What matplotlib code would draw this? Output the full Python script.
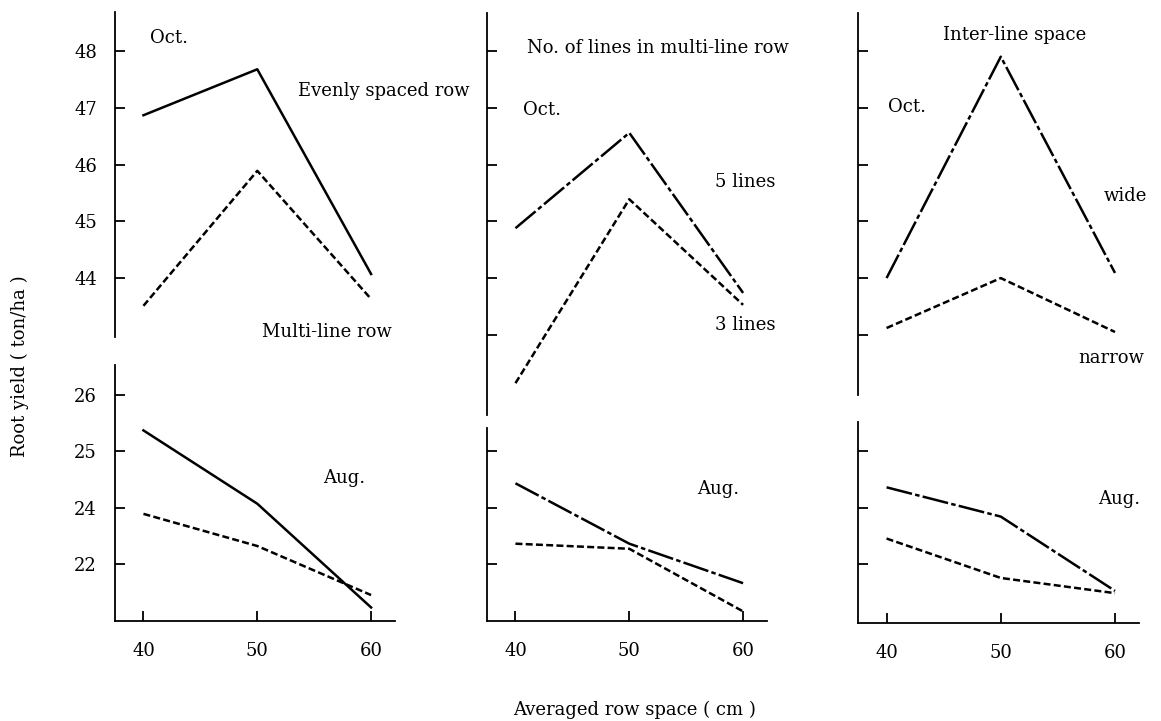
import matplotlib
matplotlib.use("Agg")
import matplotlib.pyplot as plt

plt.rcParams['font.family'] = ['DejaVu Serif']

W, H = 1161, 721
fig = plt.figure(figsize=(W / 100, H / 100), dpi=100)

# data
spacing = [40, 50, 60]

# Oct. (upper row)
evenly_oct = [46.87, 47.68, 44.07]
multi_oct = [43.51, 45.89, 43.63]
lines5_oct = [44.88, 46.56, 43.74]
lines3_oct = [42.15, 45.39, 43.53]
wide_oct = [44.00, 47.90, 44.09]
narrow_oct = [43.12, 44.00, 43.05]

# Aug. (lower row)
evenly_aug = [25.37, 24.07, 22.23]
multi_aug = [23.89, 23.32, 22.45]
lines5_aug = [24.43, 23.36, 22.66]
lines3_aug = [23.36, 23.27, 22.16]
wide_aug = [24.36, 23.84, 22.52]
narrow_aug = [23.45, 22.75, 22.48]

oct_ticks = [44, 45, 46, 47, 48]
aug_ticks = [23, 24, 25, 26]
aug_ticklabels = ['22', '24', '25', '26']  # as printed on the original
x_ticks = [40, 50, 60]

SOLID = '-'
DASH = (0, (2.8, 1.3))
DASHDOT = (0, (10.5, 1.3, 1.8, 1.3))
LW = 1.8
FS = 13


def px_axes(x0, y0, x1, y1):
    return fig.add_axes([x0 / W, 1 - y1 / H, (x1 - x0) / W, (y1 - y0) / H])


def style(ax, bottom):
    for s in ['top', 'right']:
        ax.spines[s].set_visible(False)
    ax.spines['left'].set_linewidth(1.3)
    ax.spines['bottom'].set_linewidth(1.3)
    ax.spines['bottom'].set_visible(bottom)
    ax.tick_params(direction='in', length=7, width=1.3, labelsize=FS, pad=13)
    ax.set_xlim(37.5, 62.1)
    if bottom:
        ax.set_xticks(x_ticks)
        ax.set_xticklabels([str(v) for v in x_ticks])
        ax.tick_params(axis='x', pad=15)
    else:
        ax.set_xticks([])
    ax.patch.set_alpha(0)


# pixel boxes of each axes and y limits
col_x = [(115, 395), (487, 767), (858, 1139)]
up_y = [(12, 337, 42.96, 48.69), (13, 415, 41.59, 48.67), (13, 395, 41.94, 48.67)]
lo_y = [(365, 621, 21.99, 26.53), (428, 621, 21.99, 25.41), (422, 623, 21.95, 25.52)]

oct_series = [(evenly_oct, SOLID, multi_oct, DASH),
              (lines5_oct, DASHDOT, lines3_oct, DASH),
              (wide_oct, DASHDOT, narrow_oct, DASH)]
aug_series = [(evenly_aug, SOLID, multi_aug, DASH),
              (lines5_aug, DASHDOT, lines3_aug, DASH),
              (wide_aug, DASHDOT, narrow_aug, DASH)]

for i in range(3):
    x0, x1 = col_x[i]
    ya, yb, lo, hi = up_y[i]
    ax = px_axes(x0, ya, x1, yb)
    style(ax, False)
    ax.set_ylim(lo, hi)
    a, la, b, lb = oct_series[i]
    ax.plot(spacing, a, color='black', lw=LW, ls=la)
    ax.plot(spacing, b, color='black', lw=LW, ls=lb)
    if i == 0:
        ax.set_yticks(oct_ticks)
    else:
        ax.set_yticks([43] + oct_ticks)
        ax.set_yticklabels([])

    ya, yb, lo, hi = lo_y[i]
    ax = px_axes(x0, ya, x1, yb)
    style(ax, True)
    ax.set_ylim(lo, hi)
    a, la, b, lb = aug_series[i]
    ax.plot(spacing, a, color='black', lw=LW, ls=la)
    ax.plot(spacing, b, color='black', lw=LW, ls=lb)
    if i == 0:
        ax.set_yticks(aug_ticks)
        ax.set_yticklabels(aug_ticklabels)
    else:
        ax.set_yticks(aug_ticks[:-1])
        ax.set_yticklabels([])


def label(x, y, s, ha='left'):
    fig.text(x / W, 1 - y / H, s, ha=ha, va='center', fontsize=FS)


label(150, 38, 'Oct.')
label(298, 91, 'Evenly spaced row')
label(262, 332, 'Multi-line row')
label(323, 478, 'Aug.')

label(527, 48, 'No. of lines in multi-line row')
label(523, 110, 'Oct.')
label(715, 182, '5 lines')
label(715, 325, '3 lines')
label(697, 489, 'Aug.')

label(943, 35, 'Inter-line space')
label(888, 107, 'Oct.')
label(1104, 196, 'wide')
label(1078, 358, 'narrow')
label(1098, 499, 'Aug.')

fig.text(20 / W, 1 - 366 / H, 'Root yield ( ton/ha )', rotation=90,
         ha='center', va='center', fontsize=FS)
fig.text(635 / W, 1 - 710 / H, 'Averaged row space ( cm )',
         ha='center', va='center', fontsize=FS)

fig.savefig('out.png', dpi=100)
